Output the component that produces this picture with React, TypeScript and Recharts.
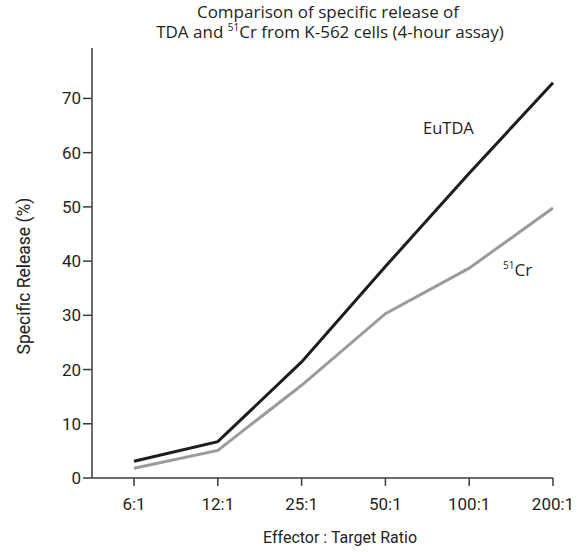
import { LineChart, Line, XAxis, YAxis } from 'recharts';

const ratios = ['6:1', '12:1', '25:1', '50:1', '100:1', '200:1'];
const euTDA = [3.1, 6.7, 21.4, 39, 56.2, 72.9];
const cr51 = [1.8, 5.1, 17.1, 30.3, 38.7, 49.8];
const yTicks = [0, 10, 20, 30, 40, 50, 60, 70];

const chartData = ratios.map((ratio, i) => ({ ratio, euTDA: euTDA[i], cr51: cr51[i] }));

const INK = '#231f20';
const AXIS = '#3a3a3a';
const TICK_FONT = 'Roboto, "DejaVu Sans Condensed", sans-serif';
const TEXT_FONT = '"Open Sans", "Noto Sans", sans-serif';

export default function App() {
  return (
    <div style={{ position: 'absolute', left: 0, top: 0, width: 586, height: 552, background: '#fff' }}>
      <LineChart
        width={586}
        height={552}
        data={chartData}
        margin={{ top: 48, right: 33, bottom: 0, left: 0 }}
      >
        <XAxis
          dataKey="ratio"
          interval={0}
          height={74}
          padding={{ left: 42, right: 0 }}
          tickSize={8}
          tickMargin={12}
          axisLine={{ stroke: AXIS, strokeWidth: 1.5 }}
          tickLine={{ stroke: AXIS, strokeWidth: 1.5 }}
          tick={{ fontFamily: TICK_FONT, fontSize: 17, fill: INK }}
        />
        <YAxis
          domain={[0, 79.3]}
          ticks={yTicks}
          width={92}
          tickSize={9}
          tickMargin={2}
          axisLine={{ stroke: AXIS, strokeWidth: 1.5 }}
          tickLine={{ stroke: AXIS, strokeWidth: 1.5 }}
          tick={{ fontFamily: TICK_FONT, fontSize: 17, fill: INK }}
        />
        <Line
          type="linear"
          dataKey="cr51"
          stroke="#9b9b9b"
          strokeWidth={3}
          dot={false}
          isAnimationActive={false}
        />
        <Line
          type="linear"
          dataKey="euTDA"
          stroke="#1d1d1b"
          strokeWidth={3}
          dot={false}
          isAnimationActive={false}
        />
        <text x={328} y={18} textAnchor="middle" fontFamily={TEXT_FONT} fontSize={17} fill={INK}>
          Comparison of specific release of
        </text>
        <text x={330} y={38} textAnchor="middle" fontFamily={TEXT_FONT} fontSize={17} fill={INK}>
          TDA and <tspan fontSize={10} dy={-7}>51</tspan>
          <tspan dy={7}>Cr from K-562 cells (4-hour assay)</tspan>
        </text>
        <text
          x={30}
          y={276}
          transform="rotate(-90, 30, 276)"
          textAnchor="middle"
          fontFamily={TICK_FONT}
          fontSize={17.5}
          fill={INK}
        >
          Specific Release (%)
        </text>
        <text x={340} y={543} textAnchor="middle" fontFamily={TICK_FONT} fontSize={16} fill={INK}>
          Effector : Target Ratio
        </text>
        <text x={423} y={134} fontFamily={TEXT_FONT} fontSize={16.5} fill={INK}>
          EuTDA
        </text>
        <text x={503} y={276} fontFamily={TEXT_FONT} fontSize={17} fill={INK}>
          <tspan fontSize={10} dy={-7}>51</tspan>
          <tspan dy={7}>Cr</tspan>
        </text>
      </LineChart>
    </div>
  );
}
